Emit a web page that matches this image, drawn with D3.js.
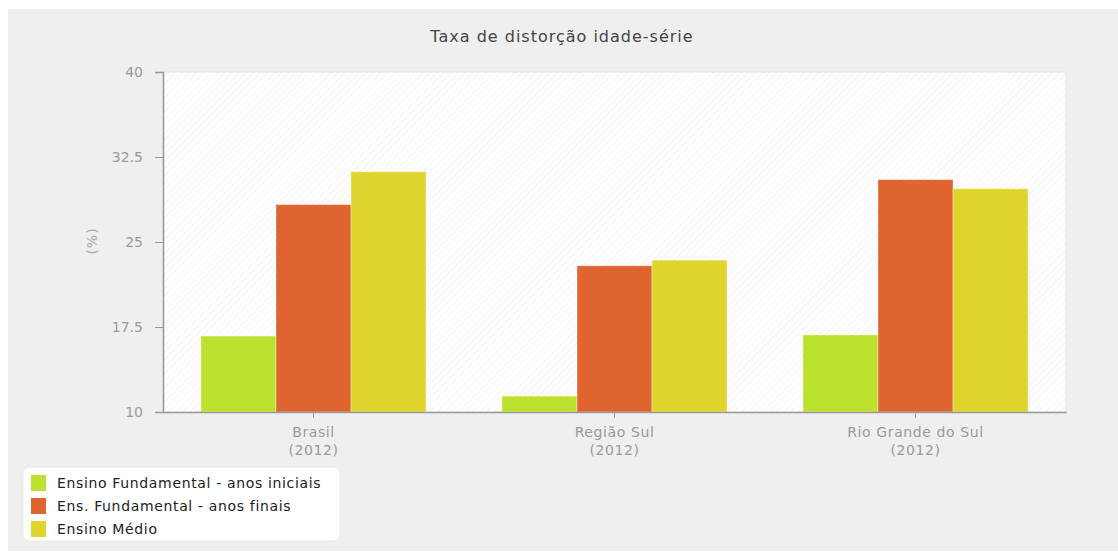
<!DOCTYPE html>
<html>
<head>
<meta charset="utf-8">
<script src="https://cdn.jsdelivr.net/npm/d3@7"></script>
<style>
  html, body { margin: 0; padding: 0; background: #ffffff; }
  svg { display: block; font-family: "DejaVu Sans", Verdana, sans-serif; }
</style>
</head>
<body>
<svg id="chart" width="1118" height="553"></svg>
<script>
// Chart data
const categories = ["Brasil", "Região Sul", "Rio Grande do Sul"];
const categoryYear = ["(2012)", "(2012)", "(2012)"];
const seriesNames = [
  "Ensino Fundamental - anos iniciais",
  "Ens. Fundamental - anos finais",
  "Ensino Médio"
];
const anosIniciais = [16.7, 11.4, 16.8];
const anosFinais = [28.3, 22.9, 30.5];
const ensinoMedio = [31.2, 23.4, 29.7];
const yTicks = [10, 17.5, 25, 32.5, 40];
const seriesColors = ["#bde12f", "#e0642f", "#dfd52e"];

const seriesValues = [anosIniciais, anosFinais, ensinoMedio];

const svg = d3.select("#chart");

// Panel background
svg.append("rect")
  .attr("x", 8).attr("y", 9)
  .attr("width", 1110).attr("height", 542)
  .attr("fill", "#efefef");

const plot = { left: 163, top: 72, right: 1066, bottom: 412 };

// Diagonal hatch for the plot area
const defs = svg.append("defs");
const pat = defs.append("pattern")
  .attr("id", "hatch")
  .attr("patternUnits", "userSpaceOnUse")
  .attr("width", 5).attr("height", 5)
  .attr("patternTransform", "rotate(45)");
pat.append("rect").attr("width", 5).attr("height", 5).attr("fill", "#ffffff");
pat.append("line")
  .attr("x1", 0).attr("y1", 0).attr("x2", 0).attr("y2", 5)
  .attr("stroke", "#eeeeee").attr("stroke-width", 1.5);

svg.append("rect")
  .attr("x", plot.left).attr("y", plot.top)
  .attr("width", plot.right - plot.left).attr("height", plot.bottom - plot.top)
  .attr("fill", "url(#hatch)")
  .attr("stroke", "#e4e4e4").attr("stroke-width", 1);

// Scales
const x0 = d3.scaleBand()
  .domain(categories)
  .range([plot.left, plot.right])
  .paddingInner(0)
  .paddingOuter(0);

const x1 = d3.scaleBand()
  .domain(seriesNames)
  .range([38, x0.bandwidth() - 38])
  .padding(0);

const y = d3.scaleLinear()
  .domain([10, 40])
  .range([plot.bottom, plot.top]);

// Bars
const groups = svg.append("g")
  .selectAll("g")
  .data(categories)
  .join("g")
  .attr("transform", d => `translate(${x0(d)},0)`);

groups.selectAll("rect")
  .data((c, i) => seriesNames.map((s, k) => ({ s, v: seriesValues[k][i], k })))
  .join("rect")
  .attr("x", d => x1(d.s))
  .attr("y", d => y(d.v))
  .attr("width", x1.bandwidth())
  .attr("height", d => y(10) - y(d.v))
  .attr("fill", d => seriesColors[d.k])
  .attr("stroke", "rgba(255,255,255,0.35)")
  .attr("stroke-width", 1);

// Y axis
const yAxis = svg.append("g")
  .attr("transform", `translate(${plot.left},0)`)
  .call(d3.axisLeft(y).tickValues(yTicks).tickSize(8).tickPadding(12)
    .tickFormat(d => String(d)));
yAxis.select(".domain").attr("stroke", "#999").attr("stroke-width", 1.5);
yAxis.selectAll(".tick line").attr("stroke", "#999");
yAxis.selectAll(".tick text")
  .attr("fill", "#9a9a9a")
  .style("font-size", "14px")
  .style("font-family", "DejaVu Sans, Verdana, sans-serif");

// X axis
const xAxis = svg.append("g")
  .attr("transform", `translate(0,${plot.bottom})`)
  .call(d3.axisBottom(x0).tickSize(6).tickSizeOuter(0).tickFormat(""));
xAxis.select(".domain").attr("stroke", "#999").attr("stroke-width", 1.5);
xAxis.selectAll(".tick line").attr("stroke", "#999");
xAxis.selectAll(".tick").each(function (d, i) {
  const t = d3.select(this).append("text")
    .attr("fill", "#9a9a9a")
    .attr("text-anchor", "middle")
    .style("font-size", "14px")
    .style("letter-spacing", "0.6px")
    .style("font-family", "DejaVu Sans, Verdana, sans-serif");
  t.append("tspan").attr("x", 0).attr("y", 25).text(d);
  t.append("tspan").attr("x", 0).attr("y", 43).text(categoryYear[i]);
});

// Y axis title
svg.append("text")
  .attr("transform", "translate(97,241) rotate(-90)")
  .attr("text-anchor", "middle")
  .attr("fill", "#aaaaaa")
  .style("font-size", "14px")
  .style("letter-spacing", "1px")
  .text("(%)");

// Chart title
svg.append("text")
  .attr("x", 562).attr("y", 42)
  .attr("text-anchor", "middle")
  .attr("fill", "#444")
  .style("font-size", "16px")
  .style("letter-spacing", "1px")
  .text("Taxa de distorção idade-série");

// Legend
const legend = svg.append("g");
legend.append("rect")
  .attr("x", 23).attr("y", 467)
  .attr("width", 317).attr("height", 74)
  .attr("rx", 6)
  .attr("fill", "#ffffff")
  .attr("stroke", "#e8e8e8");

const items = legend.selectAll("g.item")
  .data(seriesNames)
  .join("g")
  .attr("class", "item")
  .attr("transform", (d, i) => `translate(31,${475 + i * 23})`);
items.append("rect")
  .attr("width", 15).attr("height", 16)
  .attr("fill", (d, i) => seriesColors[i]);
items.append("text")
  .attr("x", 26).attr("y", 13)
  .attr("fill", "#222")
  .style("font-size", "14px")
  .style("letter-spacing", "0.65px")
  .text(d => d);
</script>
</body>
</html>
